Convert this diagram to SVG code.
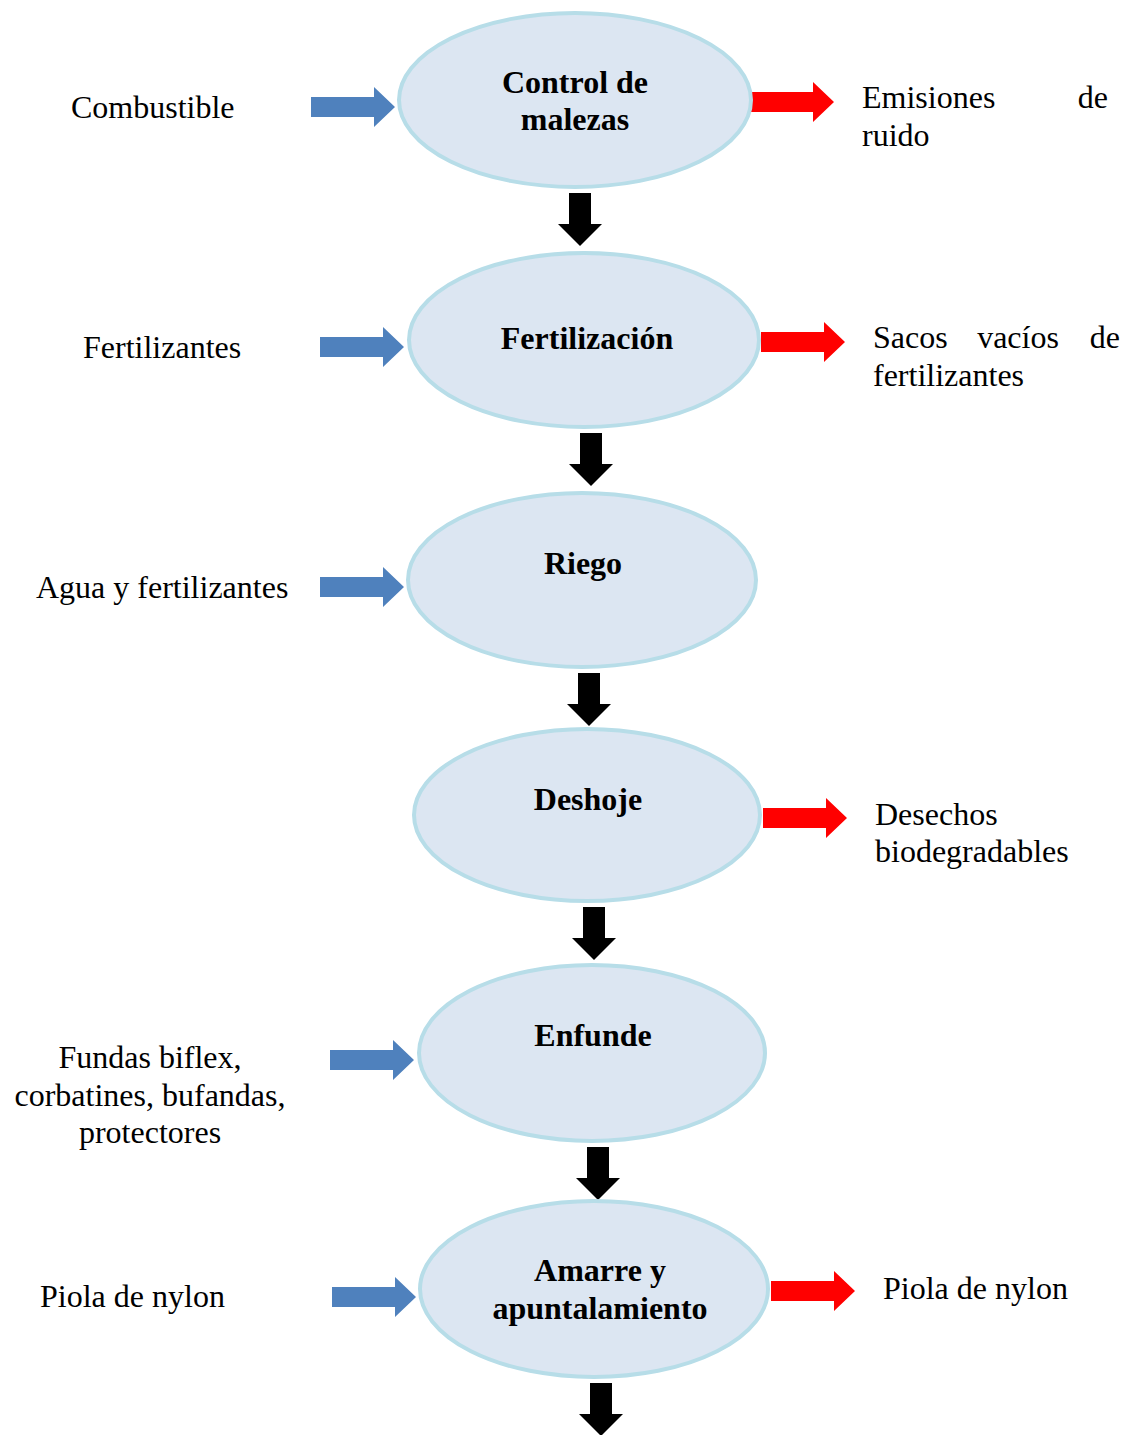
<svg xmlns="http://www.w3.org/2000/svg" width="1131" height="1435" viewBox="0 0 1131 1435">
<style>
.node ellipse{fill:#DCE6F2;stroke:#B7DDE8;stroke-width:4}
.t{font-family:"Liberation Serif","Times New Roman",serif;font-size:32px;fill:#000}
.b{font-weight:bold;text-anchor:middle}
.c{text-anchor:middle}
.e{text-anchor:end}
.blue{fill:#4F81BD}
.red{fill:#FF0000}
.blk{fill:#000}
</style>
<defs>
<path id="down" d="M-11,0 H11 V31 H22 L0,53 L-22,31 H-11 Z"/>
<path id="right" d="M0,-10 H63 V-20 L84,0 L63,20 V10 H0 Z"/>
</defs>
<rect width="1131" height="1435" fill="#fff"/>
<g id="connectors">
<use href="#down" class="blk" x="580" y="193"/>
<use href="#down" class="blk" x="591" y="433"/>
<use href="#down" class="blk" x="589" y="673"/>
<use href="#down" class="blk" x="594" y="907"/>
<use href="#down" class="blk" x="598" y="1147"/>
<use href="#down" class="blk" x="601" y="1383"/>
<use href="#right" class="blue" x="311" y="107"/>
<use href="#right" class="blue" x="320" y="347"/>
<use href="#right" class="blue" x="320" y="587"/>
<use href="#right" class="blue" x="330" y="1060"/>
<use href="#right" class="blue" x="332" y="1297"/>
<use href="#right" class="red" x="750" y="102"/>
<use href="#right" class="red" x="761" y="342"/>
<use href="#right" class="red" x="763" y="818"/>
<use href="#right" class="red" x="771" y="1291"/>
</g>
<g id="n1" class="node"><ellipse cx="575" cy="100" rx="176" ry="87"/>
<text class="t b" x="575" y="93">Control de</text><text class="t b" x="575" y="130">malezas</text></g>
<g id="n2" class="node"><ellipse cx="584" cy="340" rx="175" ry="87"/>
<text class="t b" x="587" y="349">Fertilización</text></g>
<g id="n3" class="node"><ellipse cx="582" cy="580" rx="174" ry="87"/>
<text class="t b" x="583" y="574">Riego</text></g>
<g id="n4" class="node"><ellipse cx="587" cy="815" rx="173" ry="86"/>
<text class="t b" x="588" y="810">Deshoje</text></g>
<g id="n5" class="node"><ellipse cx="592" cy="1053" rx="173" ry="88"/>
<text class="t b" x="593" y="1046">Enfunde</text></g>
<g id="n6" class="node"><ellipse cx="594" cy="1289" rx="174" ry="88"/>
<text class="t b" x="600" y="1281">Amarre y</text><text class="t b" x="600" y="1319">apuntalamiento</text></g>
<g id="inputs">
<text class="t" x="71" y="118">Combustible</text>
<text class="t" x="83" y="358">Fertilizantes</text>
<text class="t" x="36" y="598">Agua y fertilizantes</text>
<text class="t c" x="150" y="1068">Fundas biflex,</text>
<text class="t c" x="150" y="1106">corbatines, bufandas,</text>
<text class="t c" x="150" y="1143">protectores</text>
<text class="t" x="40" y="1307">Piola de nylon</text>
</g>
<g id="outputs">
<text class="t" x="862" y="108">Emisiones</text><text class="t e" x="1108" y="108">de</text>
<text class="t" x="862" y="146">ruido</text>
<text class="t" x="873" y="348">Sacos</text><text class="t c" x="1018" y="348">vacíos</text><text class="t e" x="1120" y="348">de</text>
<text class="t" x="873" y="386">fertilizantes</text>
<text class="t" x="875" y="825">Desechos</text>
<text class="t" x="875" y="862">biodegradables</text>
<text class="t" x="883" y="1299">Piola de nylon</text>
</g>
</svg>
